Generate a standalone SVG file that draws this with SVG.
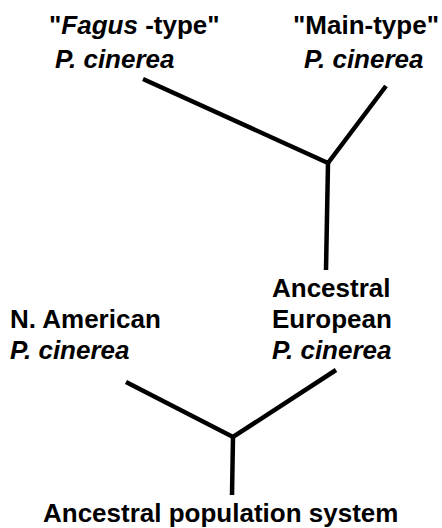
<svg xmlns="http://www.w3.org/2000/svg" width="442" height="528" viewBox="0 0 442 528">
<style>
text{font-family:"Liberation Sans",Arial,sans-serif;font-weight:bold;font-size:26px;fill:#000}
.i{font-style:italic}
.e{stroke:#000;stroke-width:4.5;fill:none;stroke-linecap:butt;stroke-linejoin:miter}
</style>
<rect width="442" height="528" fill="#fff"/>
<g id="connectors">
<path class="e" d="M143,79 L328,163 L386,86"/>
<path class="e" d="M328,163 L326,270"/>
<path class="e" d="M126,382 L233,437 L336,370"/>
<path class="e" d="M233,437 L232,495"/>
</g>
<g id="fagus">
<text x="49" y="34">"<tspan class="i">Fagus</tspan> -type"</text>
<text x="55" y="68" class="i">P. cinerea</text>
</g>
<g id="main">
<text x="293" y="34">"Main-type"</text>
<text x="304" y="68" class="i">P. cinerea</text>
</g>
<g id="namerican">
<text x="10" y="328">N. American</text>
<text x="10" y="359" class="i">P. cinerea</text>
</g>
<g id="ancestral-european">
<text x="272" y="297">Ancestral</text>
<text x="272" y="328">European</text>
<text x="272" y="359" class="i">P. cinerea</text>
</g>
<g id="ancestral-system">
<text x="43" y="522">Ancestral population system</text>
</g>
</svg>
